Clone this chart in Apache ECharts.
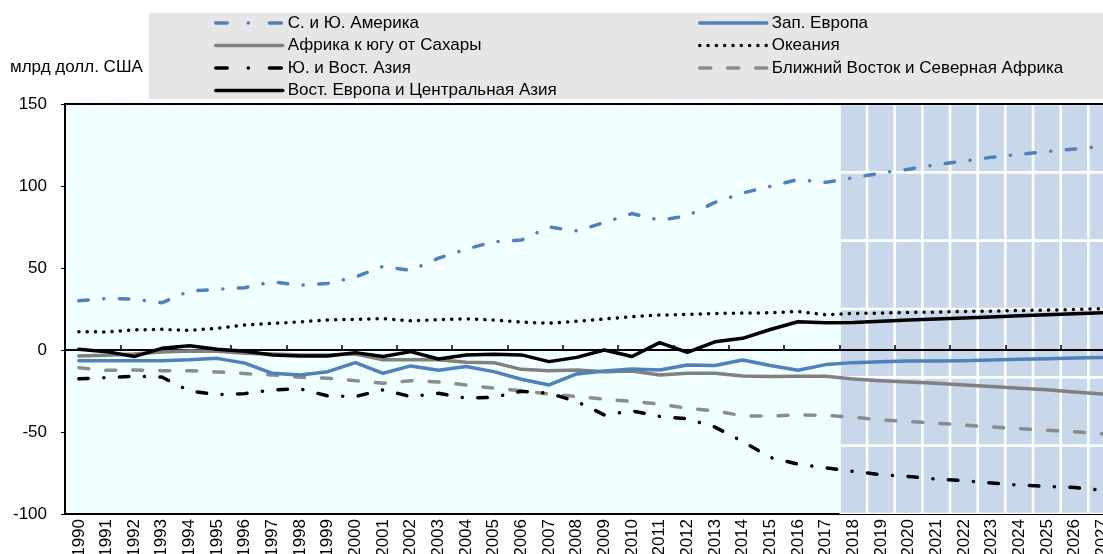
<!DOCTYPE html>
<html>
<head>
<meta charset="utf-8">
<script src="https://cdn.jsdelivr.net/npm/echarts@6/dist/echarts.min.js"></script>
<style>
  html, body { margin: 0; padding: 0; background: #fff; overflow: hidden; }
  /* the plot runs past the right edge of the window, as in the source picture */
  #chart { width: 1118px; height: 554px; }
</style>
</head>
<body>
<div id="chart"></div>
<script>
// years on the x axis
var years = ['1990','1991','1992','1993','1994','1995','1996','1997','1998','1999',
             '2000','2001','2002','2003','2004','2005','2006','2007','2008','2009',
             '2010','2011','2012','2013','2014','2015','2016','2017','2018','2019',
             '2020','2021','2022','2023','2024','2025','2026','2027'];
var projStart = 2018;   // shaded projection years from here on
var projBands = 6;      // shaded block is split in 6 rows

// bn USD
var americas = [30, 31.4, 31, 28.8, 36, 37, 38, 41.6, 39.5, 40.6,
                44.5, 51, 48.5, 56, 61.5, 66, 67, 75, 72.6, 77.7,
                83.2, 79.1, 81.8, 90, 95.7, 99.8, 103.9, 102.2, 105, 107.9,
                110.2, 113, 115.2, 117.5, 119.3, 121, 122.5, 124.2];
var ssAfrica = [-3.7, -3.2, -2.4, -1.2, -0.6, -0.8, -2, -2.5, -3, -3,
                -2.5, -6, -6, -6, -7.5, -7.7, -11.8, -12.6, -12.2, -13.2,
                -12.8, -15.2, -14.2, -14.2, -15.8, -16.2, -16, -16, -17.7, -18.7,
                -19.5, -20.3, -21.3, -22.3, -23.3, -24.3, -25.6, -26.8];
var seAsia = [-17.6, -16.8, -16, -16.5, -25, -27.2, -26.6, -24.3, -23.7, -28,
              -28.4, -24.3, -28.4, -26.4, -29.4, -28.8, -25.2, -26.4, -31.4, -39.6,
              -37.1, -40.5, -42, -47, -55.8, -65.5, -69.6, -71.8, -74, -76,
              -77.1, -78.7, -79.7, -81.1, -82.4, -83.2, -83.8, -85.6];
var eEurope = [0.4, -1, -4, 1, 2.6, 0.4, -0.8, -3, -3.6, -3.6,
               -1.6, -4, -1, -5.5, -3, -2.6, -3, -7.1, -4.5, 0,
               -4, 4.5, -1.4, 5, 7.1, 12.5, 17.2, 16.6, 16.8, 17.6,
               18.3, 18.9, 19.5, 20.1, 20.9, 21.5, 22.1, 22.7];
var wEurope = [-6.5, -6.5, -6.5, -6.5, -6, -5.1, -8, -14.2, -15.2, -13.2,
               -7.7, -14.2, -9.7, -12.4, -10.1, -13.2, -17.8, -21.3, -14.6, -12.8,
               -11.6, -12.2, -9.1, -9.5, -6.1, -9.5, -12.4, -8.9, -7.7, -7.1,
               -6.7, -6.7, -6.5, -6.1, -5.7, -5.3, -4.9, -4.5];
var oceania = [11.2, 11, 12.3, 12.6, 12, 13.2, 15.2, 16.2, 17.2, 18.3,
               18.7, 19.1, 17.8, 18.5, 19, 18.3, 17, 16.3, 17.5, 18.9,
               20.3, 21.3, 21.7, 22.3, 22.5, 22.7, 23.5, 21.5, 22.3, 22.5,
               22.9, 23.1, 23.5, 23.7, 24.1, 24.3, 24.7, 25.2];
var mena = [-10.8, -12.4, -12.2, -12.6, -12.6, -13.4, -14.4, -15.2, -16.6, -17.2,
            -18.7, -20.3, -18.7, -19.5, -21.3, -23.3, -24.8, -26.8, -28.4, -30,
            -31.4, -32.9, -35.5, -37.1, -40.2, -40.2, -39.6, -39.8, -41, -42.6,
            -43.6, -44.6, -45.8, -46.9, -47.9, -48.9, -49.9, -51.1];

var names = {
  americas: 'С. и Ю. Америка',
  ssAfrica: 'Африка к югу от Сахары',
  seAsia: 'Ю. и Вост. Азия',
  eEurope: 'Вост. Европа и Центральная Азия',
  wEurope: 'Зап. Европа',
  oceania: 'Океания',
  mena: 'Ближний Восток и Северная Африка'
};

var FONT = '"Liberation Sans Narrow", "Arial Narrow", "Liberation Sans", Arial, sans-serif';
var BLUE = '#4F81BD';

// dash patterns (round caps add width to every piece)
var dashDot = [9.5, 15.5, 0.1, 15.5];
var dotted = [0.1, 8.2];
var dashed = [10, 17];
// legend keys are short, so their patterns are spaced to fit 67px
var keyDashDot = [11.5, 21, 0.1, 21, 12, 10];
var keyDashed = [11, 17];

function lineSeries(name, data, color, type) {
  return {
    name: name, type: 'line', data: data,
    xAxisIndex: 0, yAxisIndex: 0,
    symbol: 'none', z: 6,
    lineStyle: { color: color, width: 3.5, type: type, cap: 'round', join: 'round' },
    itemStyle: { color: color }
  };
}

function key(name, type) {
  var item = { name: name };
  if (type) item.lineStyle = { type: type };
  return item;
}

var projData = years.map(function (y) { return +y >= projStart ? 1 : null; });

var series = [];
for (var k = 0; k < projBands; k++) {
  series.push({
    type: 'bar', stack: 'proj', data: projData,
    xAxisIndex: 0, yAxisIndex: 1, barWidth: '100%',
    silent: true, z: 1,
    itemStyle: { color: '#C8D7EA', borderColor: '#ffffff', borderWidth: 1.3 }
  });
}
series.push(lineSeries(names.ssAfrica, ssAfrica, '#808080', 'solid'));
series.push(lineSeries(names.mena, mena, '#8C8C8C', dashed));
series.push(lineSeries(names.wEurope, wEurope, BLUE, 'solid'));
series.push(lineSeries(names.americas, americas, BLUE, dashDot));
series.push(lineSeries(names.oceania, oceania, '#000', dotted));
series.push(lineSeries(names.seAsia, seAsia, '#000', dashDot));
series.push(lineSeries(names.eEurope, eEurope, '#000', 'solid'));

var legendBase = {
  orient: 'vertical', top: 7, itemWidth: 67, itemHeight: 14, itemGap: 0.5,
  textStyle: { fontFamily: FONT, fontSize: 17, color: '#000', lineHeight: 22 },
  itemStyle: { color: 'transparent', borderColor: 'transparent', borderWidth: 0 },
  lineStyle: { width: 3.5, cap: 'round' },
  selectedMode: false
};

var chart = echarts.init(document.getElementById('chart'), null, { renderer: 'canvas' });
chart.setOption({
  animation: false,
  textStyle: { fontFamily: FONT },
  title: {
    text: 'млрд долл. США', left: 5, top: 54,
    textStyle: { fontFamily: FONT, fontSize: 17, fontWeight: 'normal', color: '#000' }
  },
  graphic: [{
    type: 'rect', left: 149, top: 13, z: -1,
    shape: { width: 970, height: 86 },
    style: { fill: '#E6E6E6' }
  }],
  legend: [
    Object.assign({}, legendBase, { left: 209, data: [
      key(names.americas, keyDashDot), key(names.ssAfrica), key(names.seAsia, keyDashDot), key(names.eEurope)
    ] }),
    Object.assign({}, legendBase, { left: 693, data: [
      key(names.wEurope), key(names.oceania, dotted), key(names.mena, keyDashed)
    ] })
  ],
  grid: {
    left: 65, top: 104, width: 1051, bottom: 40,
    outerBoundsMode: 'none',
    show: true, backgroundColor: '#F0FFFF', borderWidth: 0
  },
  xAxis: [
    { // bottom axis with year labels
      type: 'category', data: years, position: 'bottom',
      axisLine: { onZero: false, lineStyle: { color: '#000', width: 2 } },
      axisTick: { show: false },
      axisLabel: { rotate: 90, margin: 5, fontFamily: FONT, fontSize: 17, color: '#000', interval: 0 },
      splitLine: { show: true, lineStyle: { color: '#ffffff', width: 1 } }
    },
    { // top border
      type: 'category', data: years, position: 'top', z: 5,
      axisLine: { onZero: false, lineStyle: { color: '#000', width: 2 } },
      axisTick: { show: false }, axisLabel: { show: false }, splitLine: { show: false }
    },
    { // zero line with inner ticks
      type: 'category', data: years, position: 'bottom', z: 5,
      axisLine: { onZero: true, onZeroAxisIndex: 0, lineStyle: { color: '#000', width: 2 } },
      axisTick: { show: true, inside: true, length: 5, lineStyle: { color: '#000', width: 1.5 } },
      axisLabel: { show: false }, splitLine: { show: false }
    }
  ],
  yAxis: [
    {
      type: 'value', min: -100, max: 150, interval: 50,
      axisLine: { show: true, lineStyle: { color: '#000', width: 2 } },
      axisTick: { show: true, length: 4, lineStyle: { color: '#000' } },
      axisLabel: { margin: 18, fontFamily: FONT, fontSize: 17, color: '#000' },
      splitLine: { show: true, lineStyle: { color: '#ffffff', width: 2 } }
    },
    { type: 'value', min: 0, max: projBands, show: false, splitLine: { show: false } }
  ],
  series: series
});
</script>
</body>
</html>
